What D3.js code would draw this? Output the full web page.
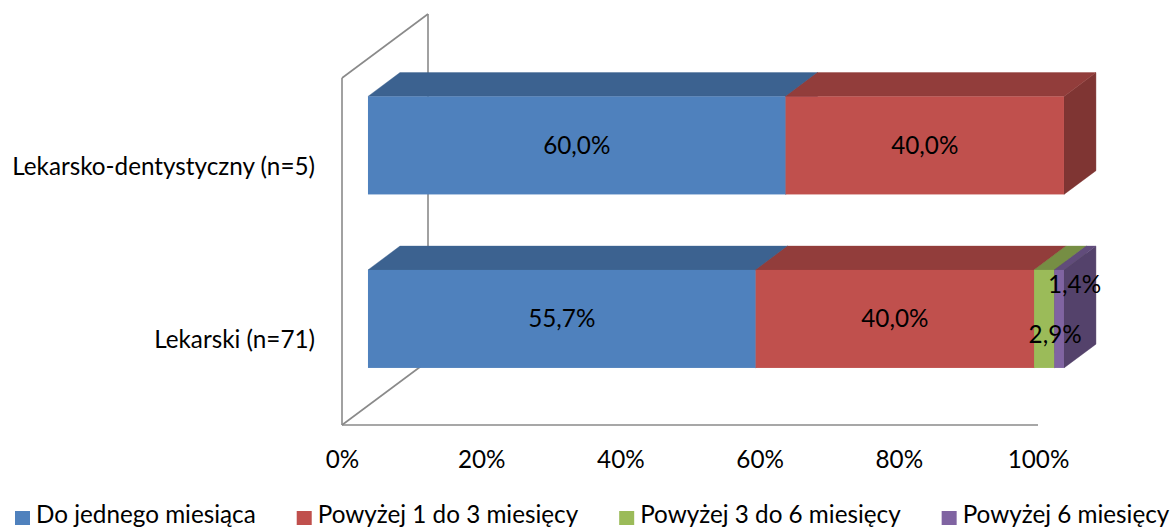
<!DOCTYPE html>
<html><head><meta charset="utf-8">
<script src="https://cdn.jsdelivr.net/npm/d3@7"></script>
<style>html,body{margin:0;padding:0;background:#fff;} svg{display:block;}</style>
</head><body>
<svg id="chart" width="1175" height="528"></svg>
<script>
// ---- data ----
const categories = ["Lekarsko-dentystyczny (n=5)", "Lekarski (n=71)"];
const seriesNames = ["Do jednego miesiąca", "Powyżej 1 do 3 miesięcy", "Powyżej 3 do 6 miesięcy", "Powyżej 6 miesięcy"];
const doJednegoMiesiaca = [60.0, 55.7];
const powyzej1do3 = [40.0, 40.0];
const powyzej3do6 = [0.0, 2.9];
const powyzej6 = [0.0, 1.4];
const tickValues = [0, 20, 40, 60, 80, 100];
const tickLabels = ["0%", "20%", "40%", "60%", "80%", "100%"];

// ---- styles ----
const frontColors = ["#4F81BD", "#C0504D", "#9BBB59", "#8064A2"];
const shade = (c, k) => { const r = d3.rgb(c); return d3.rgb(r.r * k, r.g * k, r.b * k).formatHex(); };
const FONT = "Lato, 'Open Sans', sans-serif";
const WALL = "#8a8a8a";

const svg = d3.select("#chart");
svg.append("rect").attr("width", 1175).attr("height", 528).attr("fill", "#fff");

// fit font size to reference text width
const probe = svg.append("text").attr("font-family", FONT).attr("font-size", 100).text(categories[0]);
const w100 = probe.node().getComputedTextLength();
probe.remove();
const fs = 100 * 303 / w100;

// ---- scales ----
const x = d3.scaleLinear().domain([0, 100]).range([342, 1038]);
const y = d3.scaleBand().domain(categories).range([78, 425]).paddingInner(0.435).paddingOuter(0.2175);
const DX = 86, DY = -64;          // full depth vector
const dFront = 0.302, dBack = 0.674;
const P = (v, yy, d) => [x(v) + d * DX, yy + d * DY];

// ---- data table / stack ----
const seriesArrays = [doJednegoMiesiaca, powyzej1do3, powyzej3do6, powyzej6];
const rows = categories.map((c, i) => {
  const o = { cat: c };
  seriesNames.forEach((s, j) => o[s] = seriesArrays[j][i]);
  return o;
});
const stacked = d3.stack().keys(seriesNames)(rows);

// ---- walls ----
const walls = svg.append("g").attr("stroke", WALL).attr("stroke-width", 1.6).attr("fill", "none");
const yTop = y.range()[0], yBot = y.range()[1];
const wallLines = [
  [P(0, yTop, 0), P(0, yBot, 0)],
  [P(0, yTop, 1), P(0, yBot, 1)],
  [P(0, yTop, 0), P(0, yTop, 1)],
  [P(0, yBot, 0), P(0, yBot, 1)],
  [P(0, yBot, 0), P(100, yBot, 0)]
];
walls.selectAll("line").data(wallLines).join("line")
  .attr("x1", d => d[0][0]).attr("y1", d => d[0][1])
  .attr("x2", d => d[1][0]).attr("y2", d => d[1][1]);

// ---- bars ----
const bars = svg.append("g");
const poly = pts => pts.map(p => p.join(",")).join(" ");
categories.forEach((cat, ci) => {
  const y0 = y(cat), y1 = y(cat) + y.bandwidth();
  stacked.forEach((s, si) => {
    const v0 = s[ci][0], v1 = s[ci][1];
    if (v1 - v0 <= 0) return;
    const g = bars.append("g");
    const col = frontColors[si];
    // right face
    g.append("polygon").attr("points", poly([P(v1, y0, dFront), P(v1, y0, dBack), P(v1, y1, dBack), P(v1, y1, dFront)]))
      .attr("fill", shade(col, 0.66)).attr("stroke", shade(col, 0.66)).attr("stroke-width", 0.4);
    // top face
    g.append("polygon").attr("points", poly([P(v0, y0, dFront), P(v1, y0, dFront), P(v1, y0, dBack), P(v0, y0, dBack)]))
      .attr("fill", shade(col, 0.76)).attr("stroke", shade(col, 0.76)).attr("stroke-width", 0.4);
    // front face
    const a = P(v0, y0, dFront), b = P(v1, y1, dFront);
    g.append("rect").attr("x", a[0]).attr("y", a[1]).attr("width", b[0] - a[0]).attr("height", b[1] - a[1])
      .attr("fill", col);
  });
});

// ---- data labels ----
const fmt = v => v.toFixed(1).replace(".", ",") + "%";
const smallOffsets = { 2: [11, 16], 3: [15.5, -34] };
const labels = svg.append("g").attr("font-family", FONT).attr("font-size", fs).attr("fill", "#000").attr("text-anchor", "middle");
categories.forEach((cat, ci) => {
  const yc = y(cat) + y.bandwidth() / 2;
  stacked.forEach((s, si) => {
    const v0 = s[ci][0], v1 = s[ci][1];
    if (v1 - v0 <= 0) return;
    const c = P((v0 + v1) / 2, yc, dFront);
    const narrow = x(v1) - x(v0) < 40;
    const off = narrow ? (smallOffsets[si] || [0, 0]) : [0, 0];
    labels.append("text").attr("x", c[0] + off[0]).attr("y", c[1] + off[1] + 8.5).text(fmt(v1 - v0));
  });
});

// ---- category labels ----
svg.append("g").attr("font-family", FONT).attr("font-size", fs).attr("text-anchor", "end")
  .selectAll("text").data(categories).join("text")
  .attr("x", 315).attr("y", d => y(d) + y.bandwidth() / 2 + 10).text(d => d);

// ---- x axis ----
const axis = svg.append("g").attr("transform", `translate(0,${yBot})`)
  .call(d3.axisBottom(x).tickValues(tickValues).tickFormat((d, i) => tickLabels[i]).tickSize(0));
axis.select(".domain").remove();
axis.selectAll("text").attr("font-family", FONT).attr("font-size", fs).attr("fill", "#000")
  .attr("y", 43).attr("dy", 0);

// ---- legend ----
const legend = svg.append("g").attr("font-family", FONT).attr("font-size", fs);
let lx = 15;
seriesNames.forEach((name, i) => {
  legend.append("rect").attr("x", lx).attr("y", 511).attr("width", 15).attr("height", 14).attr("fill", frontColors[i]);
  const t = legend.append("text").attr("x", lx + 21).attr("y", 523).attr("fill", "#000").text(name);
  lx += 21 + t.node().getComputedTextLength() + 41;
});
</script>
</body></html>
